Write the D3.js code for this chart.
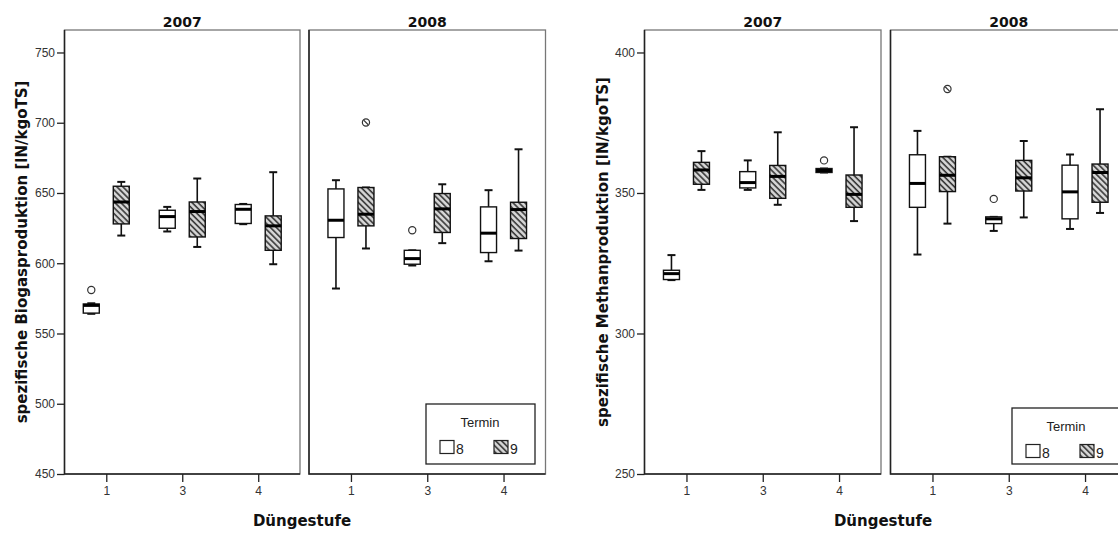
<!DOCTYPE html>
<html>
<head>
<meta charset="utf-8">
<script src="https://cdn.jsdelivr.net/npm/d3@7"></script>
<style>
  html, body { margin: 0; padding: 0; background: #fff; }
  svg { display: block; }
</style>
</head>
<body>
<svg id="chart" width="1118" height="533"></svg>
<script>
// ---------------- DATA ----------------
const categories = ["1", "3", "4"];          // Düngestufe
const years = ["2007", "2008"];
const termine = ["8", "9"];

// five-number summaries per category: [min, q1, median, q3, max]
const biogas2007T8 = [[564, 564.5, 570, 571, 571.5], [622.6, 624.9, 633.2, 637.7, 640.1], [627.8, 628.3, 638.4, 641.8, 642.2]];
const biogas2007T9 = [[619.7, 628, 643.6, 654.8, 657.9], [611.6, 618.7, 636.8, 643.6, 660.3], [599.3, 609.2, 626.6, 633.7, 664.8]];
const biogas2008T8 = [[582, 618.3, 630.6, 652.9, 659.1], [598.4, 599.3, 603.3, 609.2, 609.2], [601.4, 607.6, 621.4, 640.1, 652]];
const biogas2008T9 = [[610.5, 626.6, 634.9, 653.9, 653.9], [614.3, 621.9, 638.7, 649.6, 656.2], [609, 617.6, 638.2, 643.4, 681.1]];
const biogasOut2007T8 = [[581], [], []];
const biogasOut2007T9 = [[], [], []];
const biogasOut2008T8 = [[], [623.5], []];
const biogasOut2008T9 = [[700.2], [], []];

const methan2007T8 = [[319, 319.2, 321.3, 322.5, 327.9], [351.1, 351.8, 353.7, 357.6, 361.6], [357.3, 357.3, 358, 358.7, 358.7]];
const methan2007T9 = [[351.1, 353.1, 358.2, 360.9, 364.9], [345.8, 348.1, 355.9, 359.8, 371.6], [340, 344.9, 349.5, 356.4, 373.4]];
const methan2008T8 = [[328.1, 344.9, 353.4, 363.6, 372.1], [336.5, 339.1, 340.8, 341.5, 341.5], [337.2, 340.8, 350.4, 359.9, 363.7]];
const methan2008T9 = [[339.1, 350.5, 356.3, 362.9, 362.9], [341.3, 350.7, 355.4, 361.6, 368.5], [342.9, 346.7, 357.3, 360.3, 379.8]];
const methanOut2007T8 = [[], [], [361.6]];
const methanOut2007T9 = [[], [], []];
const methanOut2008T8 = [[], [347.9], []];
const methanOut2008T9 = [[387], [], []];

const biogasTicks = [450, 500, 550, 600, 650, 700, 750];
const methanTicks = [250, 300, 350, 400];

const legendTitle = "Termin";
const xTitle = "Düngestufe";

// ---------------- DRAW ----------------
const svg = d3.select("#chart");
const defs = svg.append("defs");
const pat = defs.append("pattern")
  .attr("id", "hatch")
  .attr("patternUnits", "userSpaceOnUse")
  .attr("width", 4.2).attr("height", 4.2)
  .attr("patternTransform", "rotate(-45)");
pat.append("rect").attr("width", 4.2).attr("height", 4.2).attr("fill", "#d8d8d8");
pat.append("line").attr("x1", 1).attr("y1", -1).attr("x2", 1).attr("y2", 6)
  .attr("stroke", "#333").attr("stroke-width", 1.6);

const tickFont = "'Liberation Sans', Arial, sans-serif";
const boldFont = "'DejaVu Sans', Verdana, sans-serif";

const charts = [
  {
    panels: [[64.5, 300], [309, 545.5]],
    yDomain: [450, 766], ticks: biogasTicks,
    ylabel: "spezifische Biogasproduktion [lN/kgoTS]", ylabelX: 22,
    xTitleX: 302,
    stats: [[biogas2007T8, biogas2007T9], [biogas2008T8, biogas2008T9]],
    outs: [[biogasOut2007T8, biogasOut2007T9], [biogasOut2008T8, biogasOut2008T9]],
    legend: { x: 426, y: 404, w: 109, h: 60 }
  },
  {
    panels: [[644.5, 881], [890.5, 1127]],
    yDomain: [250, 408], ticks: methanTicks,
    ylabel: "spezifische Methanproduktion [lN/kgoTS]", ylabelX: 603,
    xTitleX: 883,
    stats: [[methan2007T8, methan2007T9], [methan2008T8, methan2008T9]],
    outs: [[methanOut2007T8, methanOut2007T9], [methanOut2008T8, methanOut2008T9]],
    legend: { x: 1012, y: 408, w: 109, h: 56 }
  }
];

const yTop = 30, yBottom = 474;
const boxW = 16, capW = 8, offset = 15;

charts.forEach(ch => {
  const y = d3.scaleLinear().domain(ch.yDomain).range([yBottom, yTop]);

  // y axis label
  svg.append("text")
    .attr("transform", `translate(${ch.ylabelX},${(yTop + yBottom) / 2}) rotate(-90)`)
    .attr("dy", "0.36em")
    .attr("text-anchor", "middle")
    .attr("font-family", boldFont).attr("font-weight", "bold").attr("font-size", 15)
    .attr("fill", "#111")
    .text(ch.ylabel);

  // x title
  svg.append("text")
    .attr("x", ch.xTitleX).attr("y", 526)
    .attr("text-anchor", "middle")
    .attr("font-family", boldFont).attr("font-weight", "bold").attr("font-size", 15)
    .attr("fill", "#111")
    .text(xTitle);

  ch.panels.forEach((p, pi) => {
    const [x0, x1] = p;
    const x = d3.scalePoint().domain(categories).range([x0, x1]).padding(0.55);
    const g = svg.append("g");

    // frame
    g.append("rect").attr("x", x0).attr("y", yTop).attr("width", x1 - x0).attr("height", yBottom - yTop)
      .attr("fill", "none").attr("stroke", "#777").attr("stroke-width", 1.3);
    g.append("path").attr("d", `M${x0},${yTop}V${yBottom}H${x1}`)
      .attr("fill", "none").attr("stroke", "#222").attr("stroke-width", 1.5);

    // title
    g.append("text").attr("x", (x0 + x1) / 2).attr("y", 26.5)
      .attr("text-anchor", "middle")
      .attr("font-family", boldFont).attr("font-weight", "bold").attr("font-size", 14)
      .attr("fill", "#111").text(years[pi]);

    // y axis (only first panel)
    if (pi === 0) {
      const ya = g.append("g").attr("transform", `translate(${x0},0)`)
        .call(d3.axisLeft(y).tickValues(ch.ticks).tickSize(7.5).tickPadding(2).tickFormat(d3.format("d")));
      ya.select(".domain").remove();
      ya.selectAll("line").attr("stroke", "#222").attr("stroke-width", 1.3);
      ya.selectAll("text").attr("font-family", tickFont).attr("font-size", 12).attr("fill", "#333");
    }

    // x axis
    const xa = g.append("g").attr("transform", `translate(0,${yBottom})`)
      .call(d3.axisBottom(x).tickSize(8).tickPadding(4.5));
    xa.select(".domain").remove();
    xa.selectAll("line").attr("stroke", "#222").attr("stroke-width", 1.3);
    xa.selectAll("text").attr("font-family", tickFont).attr("font-size", 12).attr("fill", "#333");

    // boxes
    termine.forEach((t, ti) => {
      const stats = ch.stats[pi][ti];
      const outs = ch.outs[pi][ti];
      categories.forEach((c, ci) => {
        const [mn, q1, md, q3, mx] = stats[ci];
        const cx = x(c) + (ti === 0 ? -offset : offset);
        const bg = g.append("g");
        // whiskers
        bg.append("line").attr("x1", cx).attr("x2", cx).attr("y1", y(mx)).attr("y2", y(q3))
          .attr("stroke", "#111").attr("stroke-width", 1.6);
        bg.append("line").attr("x1", cx).attr("x2", cx).attr("y1", y(q1)).attr("y2", y(mn))
          .attr("stroke", "#111").attr("stroke-width", 1.6);
        [mn, mx].forEach(v => {
          bg.append("line").attr("x1", cx - capW / 2).attr("x2", cx + capW / 2)
            .attr("y1", y(v)).attr("y2", y(v))
            .attr("stroke", "#111").attr("stroke-width", 2);
        });
        // box
        bg.append("rect").attr("x", cx - boxW / 2).attr("y", y(q3))
          .attr("width", boxW).attr("height", Math.max(1, y(q1) - y(q3)))
          .attr("fill", ti === 0 ? "#fff" : "url(#hatch)")
          .attr("stroke", "#111").attr("stroke-width", 1.4);
        // median
        bg.append("line").attr("x1", cx - boxW / 2).attr("x2", cx + boxW / 2)
          .attr("y1", y(md)).attr("y2", y(md))
          .attr("stroke", "#000").attr("stroke-width", 3);
        // outliers
        outs[ci].forEach(v => {
          bg.append("circle").attr("cx", cx).attr("cy", y(v)).attr("r", 3.6)
            .attr("fill", "#fff").attr("stroke", "#333").attr("stroke-width", 1.2);
          if (ti === 1) {
            bg.append("line").attr("x1", cx - 2.3).attr("y1", y(v) - 2.3)
              .attr("x2", cx + 2.3).attr("y2", y(v) + 2.3)
              .attr("stroke", "#333").attr("stroke-width", 1.2);
          }
        });
      });
    });
  });

  // legend
  const L = ch.legend;
  const lg = svg.append("g");
  lg.append("rect").attr("x", L.x).attr("y", L.y).attr("width", L.w).attr("height", L.h)
    .attr("fill", "#fff").attr("stroke", "#222").attr("stroke-width", 1.3);
  lg.append("text").attr("x", L.x + 54).attr("y", L.y + 23)
    .attr("text-anchor", "middle").attr("font-family", tickFont).attr("font-size", 13)
    .attr("fill", "#222").text(legendTitle);
  termine.forEach((t, ti) => {
    const sx = L.x + (ti === 0 ? 14 : 68);
    lg.append("rect").attr("x", sx).attr("y", L.y + 36.5).attr("width", 14).attr("height", 13)
      .attr("fill", ti === 0 ? "#fff" : "url(#hatch)").attr("stroke", "#222").attr("stroke-width", 1.2);
    lg.append("text").attr("x", sx + 16).attr("y", L.y + 49.5)
      .attr("font-family", tickFont).attr("font-size", 14).attr("fill", "#222").text(t);
  });
});
</script>
</body>
</html>
